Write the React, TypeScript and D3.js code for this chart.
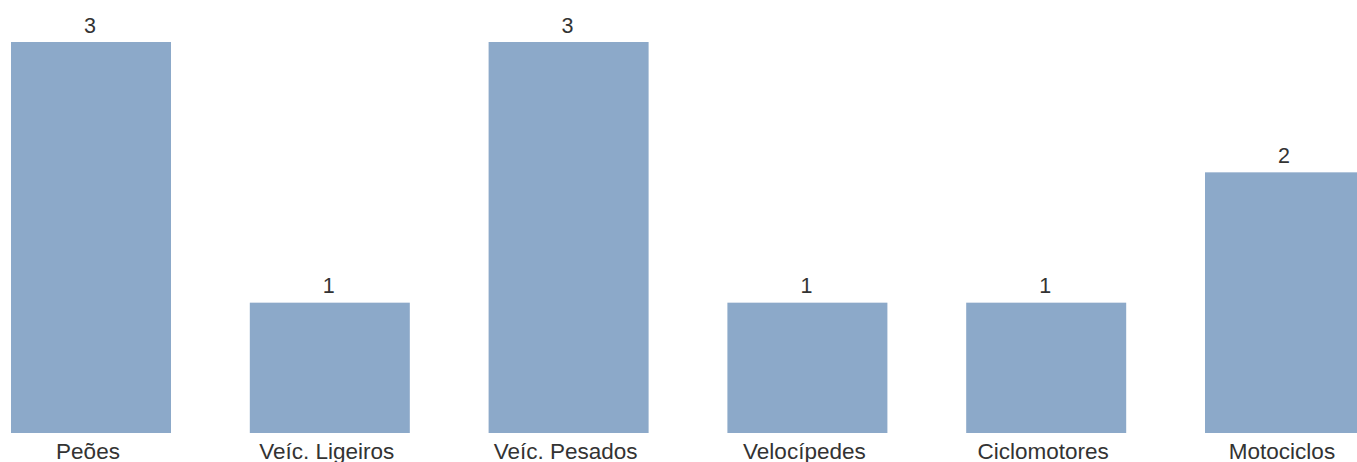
import React from "react";
import * as d3 from "d3";

const categories = ["Peões", "Veíc. Ligeiros", "Veíc. Pesados", "Velocípedes", "Ciclomotores", "Motociclos"];
const values = [3, 1, 3, 1, 1, 2];

const W = 1357;
const H = 462;

export default function App() {
  const step = 238.8;
  const bw = 160;
  const pad = (step - bw) / step;
  const x0 = 11 - (step - bw) / 2;
  const x = d3
    .scaleBand<string>()
    .domain(categories)
    .range([x0, x0 + step * categories.length])
    .paddingInner(pad)
    .paddingOuter(pad / 2);
  const y = d3.scaleLinear().domain([0, 3]).range([433, 42]);
  const font = "'Liberation Sans', Arial, sans-serif";
  return (
    <svg
      width={W}
      height={H}
      style={{ position: "absolute", left: 0, top: 0, display: "block" }}
    >
      {categories.map((c, i) => {
        const bx = x(c)!;
        const cx = bx + x.bandwidth() / 2;
        return (
          <g key={c}>
            <rect x={bx} y={y(values[i])} width={x.bandwidth()} height={y(0) - y(values[i])} fill="#8ca9c9" />
            <text x={cx - 1} y={y(values[i]) - 9.5} textAnchor="middle" fontFamily={font} fontSize={21.5} fill="#333">
              {values[i]}
            </text>
            <text x={cx - 3} y={458.5} textAnchor="middle" fontFamily={font} fontSize={22.5} fill="#333">
              {c}
            </text>
          </g>
        );
      })}
    </svg>
  );
}
